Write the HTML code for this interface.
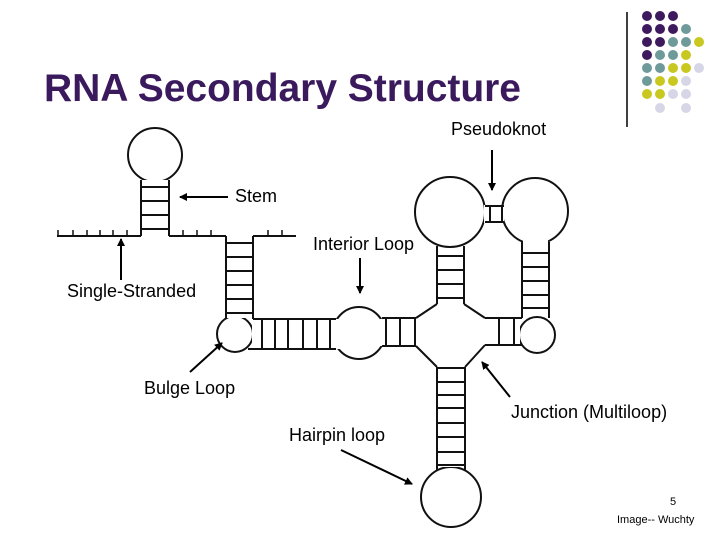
<!DOCTYPE html>
<html><head><meta charset="utf-8"><style>
body{margin:0;background:#fff;width:720px;height:540px;overflow:hidden;font-family:"Liberation Sans",sans-serif}
</style></head><body>
<svg width="720" height="540" viewBox="0 0 720 540" xmlns="http://www.w3.org/2000/svg">
<defs><marker id="a" markerWidth="8" markerHeight="8" refX="7" refY="4" orient="auto" markerUnits="userSpaceOnUse"><path d="M0,0 L8,4 L0,8 z" fill="#000"/></marker></defs>
<text x="44" y="101" font-family="Liberation Sans,sans-serif" font-size="39" font-weight="bold" fill="#3a1a5c" textLength="477">RNA Secondary Structure</text>
<line x1="627" y1="12" x2="627" y2="127" stroke="#000" stroke-width="1.5"/>
<g>
<circle cx="647" cy="16" r="5" fill="#3d1a5e"/><circle cx="660" cy="16" r="5" fill="#3d1a5e"/><circle cx="673" cy="16" r="5" fill="#3d1a5e"/>
<circle cx="647" cy="29" r="5" fill="#3d1a5e"/><circle cx="660" cy="29" r="5" fill="#3d1a5e"/><circle cx="673" cy="29" r="5" fill="#3d1a5e"/><circle cx="686" cy="29" r="5" fill="#6e9a9a"/>
<circle cx="647" cy="42" r="5" fill="#3d1a5e"/><circle cx="660" cy="42" r="5" fill="#3d1a5e"/><circle cx="673" cy="42" r="5" fill="#6e9a9a"/><circle cx="686" cy="42" r="5" fill="#6e9a9a"/><circle cx="699" cy="42" r="5" fill="#c8c820"/>
<circle cx="647" cy="55" r="5" fill="#3d1a5e"/><circle cx="660" cy="55" r="5" fill="#6e9a9a"/><circle cx="673" cy="55" r="5" fill="#6e9a9a"/><circle cx="686" cy="55" r="5" fill="#c8c820"/>
<circle cx="647" cy="68" r="5" fill="#6e9a9a"/><circle cx="660" cy="68" r="5" fill="#6e9a9a"/><circle cx="673" cy="68" r="5" fill="#c8c820"/><circle cx="686" cy="68" r="5" fill="#c8c820"/><circle cx="699" cy="68" r="5" fill="#d6d6e6"/>
<circle cx="647" cy="81" r="5" fill="#6e9a9a"/><circle cx="660" cy="81" r="5" fill="#c8c820"/><circle cx="673" cy="81" r="5" fill="#c8c820"/><circle cx="686" cy="81" r="5" fill="#d6d6e6"/>
<circle cx="647" cy="94" r="5" fill="#c8c820"/><circle cx="660" cy="94" r="5" fill="#c8c820"/><circle cx="673" cy="94" r="5" fill="#d6d6e6"/><circle cx="686" cy="94" r="5" fill="#d6d6e6"/>
<circle cx="660" cy="108" r="5" fill="#d6d6e6"/><circle cx="686" cy="108" r="5" fill="#d6d6e6"/>
</g>
<g stroke="#111" stroke-width="2" fill="#fff">
<circle cx="155" cy="155" r="27"/>
<circle cx="235" cy="334" r="18"/>
<circle cx="359" cy="333" r="26"/>
<circle cx="450" cy="212" r="35"/>
<circle cx="535" cy="211" r="33"/>
<circle cx="537" cy="335" r="18"/>
<circle cx="451" cy="497" r="30"/>
<rect x="142" y="180" width="26" height="56" stroke="none"/>
<rect x="227" y="236" width="25" height="82" stroke="none"/>
<rect x="252" y="319" width="90" height="30" stroke="none"/>
<rect x="380" y="319" width="120" height="27" stroke="none"/>
<rect x="438" y="250" width="26" height="217" stroke="none"/>
<rect x="484" y="205" width="20" height="18" stroke="none"/>
<rect x="523" y="240" width="25" height="74" stroke="none"/>
<rect x="485" y="319" width="35" height="26" stroke="none"/>
<polygon points="437,304 464,304 485,318 485,345 465,367 437,367 416,345 416,318" stroke="none"/>
</g>
<g stroke="#111" stroke-width="2" fill="none">
<line x1="141" y1="180" x2="141" y2="236"/><line x1="169" y1="180" x2="169" y2="236"/>
<line x1="141" y1="187" x2="169" y2="187"/><line x1="141" y1="201" x2="169" y2="201"/><line x1="141" y1="215" x2="169" y2="215"/><line x1="141" y1="229" x2="169" y2="229"/>
<line x1="57" y1="236" x2="141" y2="236"/><line x1="169" y1="236" x2="226" y2="236"/><line x1="253" y1="236" x2="296" y2="236"/>
<path d="M58 236v-6M73 236v-6M87 236v-6M100 236v-6M113 236v-6M127 236v-6M183 236v-6M197 236v-6M211 236v-6M268 236v-6M282 236v-6" stroke-width="1.5"/>
<line x1="226" y1="236" x2="226" y2="318"/><line x1="253" y1="236" x2="253" y2="319"/>
<path d="M226 243h27M226 257h27M226 271h27M226 285h27M226 299h27M226 313h27"/>
<line x1="253" y1="319" x2="336" y2="319"/><line x1="248" y1="349" x2="336" y2="349"/>
<path d="M262 319v30M275 319v30M288 319v30M303 319v30M317 319v30M330 319v30"/>
<line x1="382" y1="318" x2="416" y2="318"/><line x1="382" y1="346" x2="416" y2="346"/>
<path d="M386 318v28M400 318v28M415 318v28"/>
<path d="M437 304L416 318M464 304L485 318M485 345L465 367M437 367L416 346"/>
<line x1="437" y1="246" x2="437" y2="304"/><line x1="464" y1="246" x2="464" y2="304"/>
<path d="M437 256h27M437 270h27M437 284h27M437 298h27"/>
<path d="M485 206h19M485 222h19M490 206v16M502 206v16" />
<line x1="522" y1="242" x2="522" y2="318"/><line x1="549" y1="242" x2="549" y2="318"/>
<path d="M522 253h27M522 267h27M522 281h27M522 295h27M522 308h27"/>
<line x1="485" y1="318" x2="522" y2="318"/><line x1="485" y1="345" x2="522" y2="345"/>
<path d="M499 318v27M514 318v27"/>
<line x1="437" y1="367" x2="437" y2="470"/><line x1="465" y1="367" x2="465" y2="470"/>
<path d="M437 368h28M437 382h28M437 395h28M437 408h28M437 423h28M437 437h28M437 452h28M437 465h28"/>
</g>
<g stroke="#000" stroke-width="2" marker-end="url(#a)">
<line x1="492" y1="150" x2="492" y2="190"/>
<line x1="228" y1="197" x2="180" y2="197"/>
<line x1="360" y1="258" x2="360" y2="293"/>
<line x1="121" y1="280" x2="121" y2="239"/>
<line x1="190" y1="372" x2="222" y2="343"/>
<line x1="510" y1="397" x2="482" y2="362"/>
<line x1="341" y1="450" x2="412" y2="484"/>
</g>
<g font-family="Liberation Sans,sans-serif" font-size="18" fill="#000">
<text x="451" y="135">Pseudoknot</text>
<text x="235" y="202">Stem</text>
<text x="313" y="250">Interior Loop</text>
<text x="67" y="297">Single-Stranded</text>
<text x="144" y="394">Bulge Loop</text>
<text x="511" y="418">Junction (Multiloop)</text>
<text x="289" y="441">Hairpin loop</text>
<text x="670" y="505" font-size="11">5</text>
<text x="617" y="523" font-size="11">Image-- Wuchty</text>
</g>
</svg>
</body></html>
